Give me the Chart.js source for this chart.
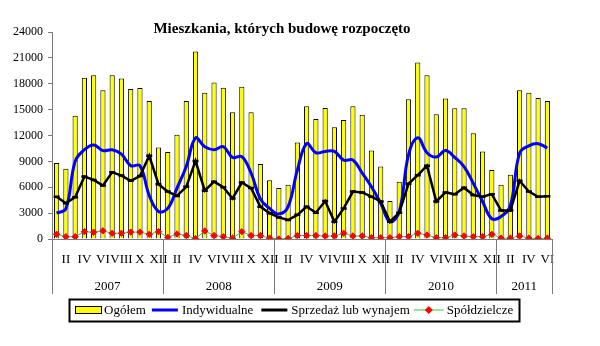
<!DOCTYPE html>
<html>
<head>
<meta charset="utf-8">
<script src="https://cdn.jsdelivr.net/npm/chart.js@4"></script>
<style>
html,body{margin:0;padding:0;background:#fff;}
canvas{display:block;}
</style>
</head>
<body>
<canvas id="c" width="600" height="346"></canvas>
<script>
// ---- data ----
const years = ['2007', '2008', '2009', '2010', '2011'];
const monthsPerYear = [12, 12, 12, 12, 6];
const romanMonths = ['I','II','III','IV','V','VI','VII','VIII','IX','X','XI','XII'];
const yTicks = [0, 3000, 6000, 9000, 12000, 15000, 18000, 21000, 24000];

const ogolem = [8800,8150,14300,18700,19000,17250,19000,18600,17400,17500,16000,10600,
  10100,12100,16000,21750,16950,18150,17550,14700,17650,14700,8700,6800,
  5900,6300,11200,15400,13900,15200,12950,13800,15400,14400,10250,8400,
  4400,6650,16200,20450,19000,14450,16300,15150,15150,12250,10150,8000,
  6300,7450,17250,16950,16350,16000];
const indywidualne = [3000,3500,9000,10350,10900,10250,10350,9850,8500,8500,5050,3200,
  3550,5900,8400,11700,10700,10350,10700,9450,9550,7650,4650,3550,
  2900,3750,8000,11050,10000,10150,10150,9150,9150,7650,6050,4150,
  2000,3150,9750,11750,10000,9500,10250,9450,8400,6450,4350,2350,
  2600,3850,9950,10800,11050,10550];
const sprzedaz = [4900,4150,4850,7250,6850,6200,7750,7350,6750,7300,9650,6350,
  5500,5000,6050,9050,5600,6650,6000,4700,6550,5900,3750,3000,
  2500,2200,2800,3750,3050,4400,2000,3550,5500,5400,4900,4350,
  2000,3050,6400,7400,8500,4350,5400,5200,5950,5100,4900,5200,
  3300,3300,6750,5500,4900,4950];
const spoldzielcze = [550,270,270,850,780,950,660,660,800,800,540,850,
  190,580,400,50,930,400,270,100,850,400,400,100,
  0,50,400,400,400,350,350,660,350,350,150,150,
  150,270,270,660,460,150,150,460,350,270,270,540,
  100,100,350,100,50,100];
const seriesNames = ['Ogółem', 'Indywidualne', 'Sprzedaż lub wynajem', 'Spółdzielcze'];
const titleText = 'Mieszkania, których budowę rozpoczęto';

// categories built from the arrays above
const categories = [];
years.forEach((y, yi) => {
  for (let m = 0; m < monthsPerYear[yi]; m++) categories.push(romanMonths[m] + ' ' + y);
});

const FONT = "'Liberation Serif','Times New Roman',serif";
const AXIS = '#7a7a7a';

const decor = {
  id: 'decor',
  afterDraw(chart) {
    const ctx = chart.ctx;
    const x = chart.scales.x;
    const a = chart.chartArea;
    ctx.save();
    // title
    ctx.fillStyle = '#000';
    ctx.font = "bold 15px " + FONT;
    ctx.textAlign = 'center';
    ctx.textBaseline = 'middle';
    ctx.fillText(titleText, 282, 29);
    // year separators and labels
    let start = 0;
    const bounds = [a.left];
    years.forEach((y, yi) => {
      const end = start + monthsPerYear[yi] - 1;
      const right = end < categories.length - 1
        ? (x.getPixelForValue(end) + x.getPixelForValue(end + 1)) / 2
        : a.right;
      bounds.push(right);
      const left = bounds[yi];
      ctx.font = "13px " + FONT;
      ctx.fillText(y, (left + right) / 2, 287);
      start = end + 1;
    });
    ctx.strokeStyle = AXIS;
    ctx.lineWidth = 1;
    bounds.forEach(b => {
      const bx = Math.round(b) + 0.5;
      ctx.beginPath();
      ctx.moveTo(bx, a.bottom);
      ctx.lineTo(bx, 294);
      ctx.stroke();
    });
    // legend
    ctx.font = "13px " + FONT;
    const ds = chart.data.datasets;
    const gaps = [6, 8, 4, 0];
    const symW = [29, 30, 30, 33];
    let total = 6;
    ds.forEach((d, i) => { total += symW[i] + ctx.measureText(d.label).width + gaps[i]; });
    total += 5;
    const lx = 69, ly = 299, lw = Math.max(450, Math.ceil(total)), lh = 22;
    ctx.fillStyle = '#fff';
    ctx.fillRect(lx, ly, lw, lh);
    ctx.strokeStyle = '#000';
    ctx.lineWidth = 2;
    ctx.strokeRect(lx + 0.5, ly + 0.5, lw, lh);
    ctx.textAlign = 'left';
    ctx.textBaseline = 'middle';
    const cy = ly + lh / 2;
    let cx = lx + 6;
    ds.forEach((d, i) => {
      if (i === 0) {
        ctx.fillStyle = d.backgroundColor;
        ctx.fillRect(cx, cy - 4, 27, 8);
        ctx.strokeStyle = '#000';
        ctx.lineWidth = 1;
        ctx.strokeRect(cx + 0.5, cy - 3.5, 26, 7);
      } else {
        ctx.strokeStyle = d.borderColor;
        ctx.lineWidth = i === 3 ? 1 : 3;
        ctx.beginPath();
        ctx.moveTo(cx, cy);
        ctx.lineTo(cx + (i === 3 ? 30 : 26), cy);
        ctx.stroke();
        if (i === 3) {
          const mx = cx + 15;
          ctx.fillStyle = d.pointBackgroundColor;
          ctx.beginPath();
          ctx.moveTo(mx, cy - 4); ctx.lineTo(mx + 4, cy); ctx.lineTo(mx, cy + 4); ctx.lineTo(mx - 4, cy);
          ctx.closePath(); ctx.fill();
        }
      }
      cx += symW[i];
      ctx.fillStyle = '#000';
      ctx.fillText(d.label, cx, cy + 1);
      cx += ctx.measureText(d.label).width + gaps[i];
    });
    ctx.restore();
  }
};

new Chart(document.getElementById('c'), {
  data: {
    labels: categories,
    datasets: [
      {
        type: 'bar', label: seriesNames[0], data: ogolem,
        backgroundColor: '#ffff00', borderColor: '#000', borderWidth: 1,
        categoryPercentage: 1, barPercentage: 0.56, order: 4
      },
      {
        type: 'line', label: seriesNames[1], data: indywidualne,
        borderColor: '#0000ff', backgroundColor: '#0000ff', borderWidth: 3,
        tension: 0.4, pointRadius: 0, order: 3
      },
      {
        type: 'line', label: seriesNames[2], data: sprzedaz,
        borderColor: '#000', backgroundColor: '#000', borderWidth: 2.5,
        tension: 0, pointStyle: 'line', pointRadius: 3, pointBorderWidth: 2.5,
        pointBorderColor: '#000', order: 2
      },
      {
        type: 'line', label: seriesNames[3], data: spoldzielcze,
        borderColor: '#33cc33', borderWidth: 1, tension: 0,
        pointStyle: 'rectRot', pointRadius: 3.2, pointBackgroundColor: '#ff0000',
        pointBorderColor: '#ff0000', pointBorderWidth: 1, order: 1
      }
    ]
  },
  options: {
    responsive: false,
    animation: false,
    devicePixelRatio: 1,
    layout: { padding: { left: 0, right: 48, top: 32, bottom: 0 } },
    plugins: { legend: { display: false }, tooltip: { enabled: false }, title: { display: false } },
    scales: {
      x: {
        type: 'category',
        offset: true,
        grid: { display: true, drawOnChartArea: false, drawTicks: false, color: AXIS },
        border: { display: true, color: AXIS, width: 1 },
        ticks: {
          autoSkip: false, maxRotation: 0, minRotation: 0, padding: 13,
          color: '#000', font: { family: FONT, size: 13 },
          callback: function (v, i) {
            const m = this.getLabelForValue(v).split(' ')[0];
            const idx = romanMonths.indexOf(m);
            return idx % 2 === 1 ? m : '';
          }
        },
        afterFit: s => { s.height = 107; }
      },
      y: {
        min: 0, max: 24000,
        afterBuildTicks: s => { s.ticks = yTicks.map(v => ({ value: v })); },
        grid: { display: true, drawOnChartArea: false, drawTicks: true, tickLength: 4, color: AXIS },
        border: { display: true, color: AXIS, width: 1 },
        ticks: { color: '#000', font: { family: FONT, size: 12 }, padding: 5,
          callback: v => String(v) },
        afterFit: s => { s.width = 52; }
      }
    }
  },
  plugins: [decor]
});
</script>
</body>
</html>
